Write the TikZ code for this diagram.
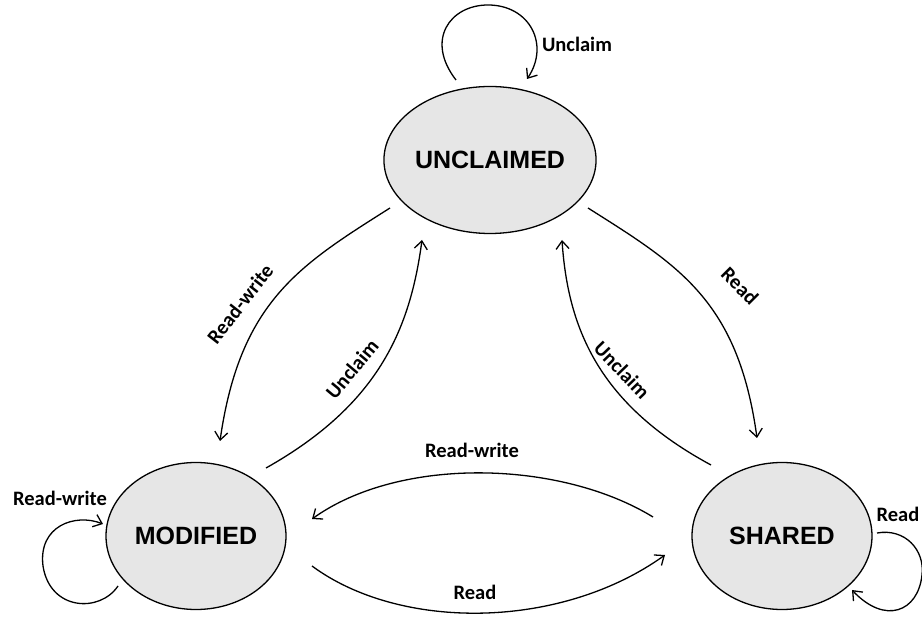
\documentclass[tikz,border=0pt]{standalone}
\usepackage{fontspec}
\usetikzlibrary{arrows.meta,calc,shapes.geometric}
\newfontfamily\statefont{Liberation Sans}[BoldFont={Liberation Sans Bold}]
\newfontfamily\edgefont{Carlito}[BoldFont={Carlito Bold}]

\begin{document}
\begin{tikzpicture}[x=1pt,y=-1pt,
  state/.style={ellipse, draw=black, line width=1.3pt, fill=stategray,
    minimum width=180pt, minimum height=147pt, inner sep=0pt,
    font=\statefont\bfseries\fontsize{25}{29}\selectfont},
  trans/.style={draw=black, line width=1.3pt,
    -{Straight Barb[length=8pt,width=13pt,line width=1.3pt]}},
  elabel/.style={inner sep=0pt, font=\edgefont\bfseries\fontsize{20.5}{24}\selectfont}]
\definecolor{stategray}{HTML}{E6E6E6}
\useasboundingbox (0,0) rectangle (922,617);

% states
\node[state] (U) at (490,160) {UNCLAIMED};
\node[state] (M) at (196,536) {MODIFIED};
\node[state] (S) at (782,536) {SHARED};

% UNCLAIMED -> MODIFIED (Read-write)
\draw[trans] ($(U)+(-100,48)$) .. controls ($(U)+(-190,105)$) and ($(M)+(44,-235)$) .. ($(M)+(24,-95)$);
% MODIFIED -> UNCLAIMED (Unclaim)
\draw[trans] ($(M)+(70,-68)$) .. controls ($(M)+(182,-131)$) and ($(U)+(-80,170)$) .. ($(U)+(-68,80)$);
% UNCLAIMED -> SHARED (Read)
\draw[trans] ($(U)+(98,48)$) .. controls ($(U)+(188,105)$) and ($(S)+(-44,-236)$) .. ($(S)+(-25,-98)$);
% SHARED -> UNCLAIMED (Unclaim)
\draw[trans] ($(S)+(-71,-71)$) .. controls ($(S)+(-182,-131)$) and ($(U)+(78,170)$) .. ($(U)+(72,80)$);
% SHARED -> MODIFIED (Read-write)
\draw[trans] ($(S)+(-129,-19)$) .. controls ($(S)+(-222,-76)$) and ($(M)+(204,-80)$) .. ($(M)+(116,-17)$);
% MODIFIED -> SHARED (Read)
\draw[trans] ($(M)+(116,30)$) .. controls ($(M)+(204,95)$) and ($(S)+(-222,94)$) .. ($(S)+(-117,19)$);

% self loops
\draw[trans] ($(U)+(-34,-80)$) .. controls ($(U)+(-65,-120)$) and ($(U)+(-40,-155)$) .. ($(U)+(-2,-155)$)
  .. controls ($(U)+(40,-155)$) and ($(U)+(60,-115)$) .. ($(U)+(37,-81)$);
\draw[trans] ($(M)+(-78,50)$) .. controls ($(M)+(-96,77)$) and ($(M)+(-146,75)$) .. ($(M)+(-153,30)$)
  .. controls ($(M)+(-158,-10)$) and ($(M)+(-121,-23)$) .. ($(M)+(-93,-12)$);
\draw[trans] ($(S)+(95,-3)$) .. controls ($(S)+(123,-8)$) and ($(S)+(143,14)$) .. ($(S)+(140,39)$)
  .. controls ($(S)+(136,76)$) and ($(S)+(103,89)$) .. ($(S)+(70,54)$);

% transition labels
\node[elabel] (lUU) at (577,44) {Unclaim};
\node[elabel, rotate=52] (lUM) at (240,304) {Read-write};
\node[elabel, rotate=50] (lMU) at (352,369) {Unclaim};
\node[elabel, rotate=-45] (lUS) at (740,286) {Read};
\node[elabel, rotate=-46] (lSU) at (622,370) {Unclaim};
\node[elabel] (lSM) at (472,450) {Read-write};
\node[elabel] (lMS) at (475,592) {Read};
\node[elabel] (lMM) at (60,498) {Read-write};
\node[elabel] (lSS) at (898,514) {Read};
\end{tikzpicture}
\end{document}
